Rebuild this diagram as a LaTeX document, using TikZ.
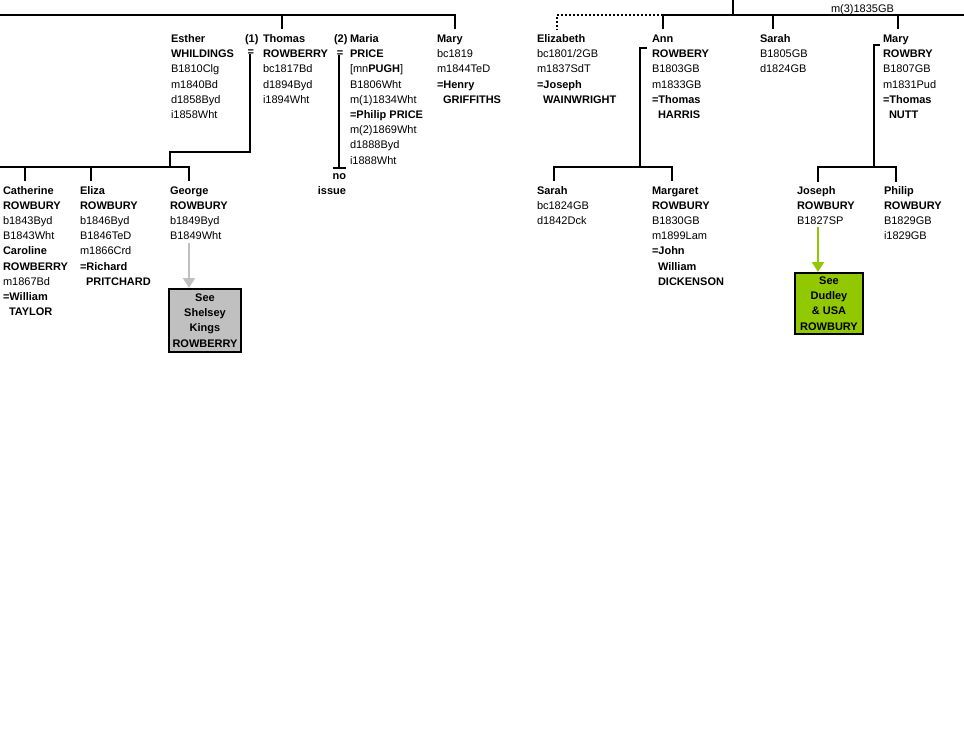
\documentclass[tikz,border=0pt]{standalone}
\usepackage{fontspec}
\setmainfont{Liberation Sans}
\usetikzlibrary{arrows.meta}
\definecolor{boxgray}{RGB}{192,192,192}
\definecolor{boxgreen}{RGB}{145,200,0}
\newcommand{\fstrut}{\rule{0pt}{8.5pt}}
\begin{document}
\begin{tikzpicture}[x=1pt,y=-1pt,
  person/.style={anchor=north west, inner sep=0pt, outer sep=0pt, align=left, font=\fontsize{11pt}{15.2pt}\selectfont},
  marker/.style={anchor=base, inner sep=0pt, font=\fontsize{11pt}{15.2pt}\selectfont\bfseries},
  link/.style={line width=2pt},
  dottedlink/.style={line width=2pt, dash pattern=on 2pt off 2pt},
  seebox/.style={draw=black, line width=2pt, align=center, inner sep=0pt, font=\fontsize{11pt}{15.2pt}\selectfont\bfseries},
  pointer/.style={line width=2pt, -{Triangle[width=12pt,length=10pt]}},
]
\useasboundingbox[fill=white] (0,0) rectangle (964,729);

% ---------- top row people ----------
\node[person] (esther) at (171,34) {\fstrut\textbf{Esther}\\\textbf{WHILDINGS}\\B1810Clg\\m1840Bd\\d1858Byd\\i1858Wht};
\node[person] (one) at (245,34) {\fstrut\textbf{(1)}};
\node[marker] (eqone) at (250.8,55.5) {=};
\node[person] (thomas) at (263,34) {\fstrut\textbf{Thomas}\\\textbf{ROWBERRY}\\bc1817Bd\\d1894Byd\\i1894Wht};
\node[person] (two) at (334,34) {\fstrut\textbf{(2)}};
\node[marker] (eqtwo) at (340,56.5) {=};
\node[person] (maria) at (350,34) {\fstrut\textbf{Maria}\\\textbf{PRICE}\\{[}mn\textbf{PUGH}{]}\\B1806Wht\\m(1)1834Wht\\\textbf{=Philip PRICE}\\m(2)1869Wht\\d1888Byd\\i1888Wht};
\node[person, anchor=north east, align=right] (noissue) at (346,170.5) {\fstrut\textbf{no}\\\textbf{issue}};
\node[person] (mary) at (437,34) {\fstrut\textbf{Mary}\\bc1819\\m1844TeD\\\textbf{=Henry}\\\hspace*{6pt}\textbf{GRIFFITHS}};
\node[person] (elizabeth) at (537,34) {\fstrut\textbf{Elizabeth}\\bc1801/2GB\\m1837SdT\\\textbf{=Joseph}\\\hspace*{6pt}\textbf{WAINWRIGHT}};
\node[person] (ann) at (652,34) {\fstrut\textbf{Ann}\\\textbf{ROWBERY}\\B1803GB\\m1833GB\\\textbf{=Thomas}\\\hspace*{6pt}\textbf{HARRIS}};
\node[person] (sarah) at (760,34) {\fstrut\textbf{Sarah}\\B1805GB\\d1824GB};
\node[person] (maryr) at (883,34) {\fstrut\textbf{Mary}\\\textbf{ROWBRY}\\B1807GB\\m1831Pud\\\textbf{=Thomas}\\\hspace*{6pt}\textbf{NUTT}};
\node[anchor=base, inner sep=0pt, font=\fontsize{11pt}{15.2pt}\selectfont] (marr) at (862.5,12.5) {m(3)1835GB};

% ---------- children row ----------
\node[person] (catherine) at (3,185.5) {\fstrut\textbf{Catherine}\\\textbf{ROWBURY}\\b1843Byd\\B1843Wht\\\textbf{Caroline}\\\textbf{ROWBERRY}\\m1867Bd\\\textbf{=William}\\\hspace*{6pt}\textbf{TAYLOR}};
\node[person] (eliza) at (80,185.5) {\fstrut\textbf{Eliza}\\\textbf{ROWBURY}\\b1846Byd\\B1846TeD\\m1866Crd\\\textbf{=Richard}\\\hspace*{6pt}\textbf{PRITCHARD}};
\node[person] (george) at (170,185.5) {\fstrut\textbf{George}\\\textbf{ROWBURY}\\b1849Byd\\B1849Wht};
\node[person] (sarahc) at (537,185.5) {\fstrut\textbf{Sarah}\\bc1824GB\\d1842Dck};
\node[person] (margaret) at (652,185.5) {\fstrut\textbf{Margaret}\\\textbf{ROWBURY}\\B1830GB\\m1899Lam\\\textbf{=John}\\\hspace*{6pt}\textbf{William}\\\hspace*{6pt}\textbf{DICKENSON}};
\node[person] (joseph) at (797,185.5) {\fstrut\textbf{Joseph}\\\textbf{ROWBURY}\\B1827SP};
\node[person] (philip) at (884,185.5) {\fstrut\textbf{Philip}\\\textbf{ROWBURY}\\B1829GB\\i1829GB};

% ---------- see boxes ----------
\node[seebox, fill=boxgray, minimum width=72pt, minimum height=63pt] (shelsey) at (205,320.5) {See\\Shelsey\\Kings\\ROWBERRY};
\node[seebox, fill=boxgreen, minimum width=68pt, minimum height=61pt] (dudley) at (829,303.5) {See\\Dudley\\\& USA\\ROWBURY};

% ---------- coordinates ----------
\coordinate (famL) at (0,15);
\coordinate (famLE) at (455,15);
\coordinate (maryT) at (455,29);
\coordinate (thomasT) at (282,29);
\coordinate (thomasJ) at (282,15);
\coordinate (eqoneB) at (250,54);
\coordinate (kinkA) at (250,152);
\coordinate (kinkB) at (170,152);
\coordinate (kidsJ) at (170,167);
\coordinate (kidsW) at (0,167);
\coordinate (kidsE) at (189,167);
\coordinate (georgeT) at (189,181);
\coordinate (elizaJ) at (91,167);
\coordinate (elizaT) at (91,181);
\coordinate (cathJ) at (25,167);
\coordinate (cathT) at (25,181);
\coordinate (eqtwoB) at (339,55);
\coordinate (mariaEnd) at (339,168);
\coordinate (tickW) at (333,168);
\coordinate (tickE) at (346,168);
% right family
\coordinate (parentUp) at (733,0);
\coordinate (parentJ) at (733,15);
\coordinate (annJ) at (663,15);
\coordinate (annT) at (663,29);
\coordinate (famRE) at (964,15);
\coordinate (elizJ) at (557,15);
\coordinate (elizT) at (557,30);
\coordinate (sarahJ) at (773,15);
\coordinate (sarahT) at (773,29);
\coordinate (maryrJ) at (898,15);
\coordinate (maryrT) at (898,29);
% Ann's children
\coordinate (annTick) at (647,48);
\coordinate (annC) at (640,48);
\coordinate (annK) at (640,167);
\coordinate (annKW) at (554,167);
\coordinate (annKWT) at (554,181);
\coordinate (annKE) at (672,167);
\coordinate (annKET) at (672,181);
% Mary Rowbry's children
\coordinate (mrTick) at (880,45);
\coordinate (mrC) at (874,45);
\coordinate (mrK) at (874,167);
\coordinate (mrKW) at (818,167);
\coordinate (mrKWT) at (818,182);
\coordinate (mrKE) at (896,167);
\coordinate (mrKET) at (896,182);
% pointers
\coordinate (georgeP) at (189,243);
\coordinate (josephP) at (818,227);

% ---------- links ----------
\draw[link] (famL) -- (famLE) -- (maryT);
\draw[link] (thomasJ) -- (thomasT);
\draw[link] (eqoneB) -- (kinkA) -- (kinkB) -- (kidsJ);
\draw[link] (kidsW) -- (kidsE) -- (georgeT);
\draw[link] (elizaJ) -- (elizaT);
\draw[link] (cathJ) -- (cathT);
\draw[link] (eqtwoB) -- (mariaEnd);
\draw[link] (tickW) -- (tickE);

\draw[link] (parentUp) -- (parentJ);
\draw[link] (annT) -- (annJ) -- (famRE);
\draw[dottedlink] (annJ) -- (elizJ) -- (elizT);
\draw[link] (sarahJ) -- (sarahT);
\draw[link] (maryrJ) -- (maryrT);

\draw[link] (annTick) -- (annC) -- (annK);
\draw[link] (annKWT) -- (annKW) -- (annKE) -- (annKET);
\draw[link] (mrTick) -- (mrC) -- (mrK);
\draw[link] (mrKWT) -- (mrKW) -- (mrKE) -- (mrKET);

\draw[pointer, boxgray] (georgeP) -- (georgeP |- shelsey.north);
\draw[pointer, boxgreen] (josephP) -- (josephP |- dudley.north);
\end{tikzpicture}
\end{document}
